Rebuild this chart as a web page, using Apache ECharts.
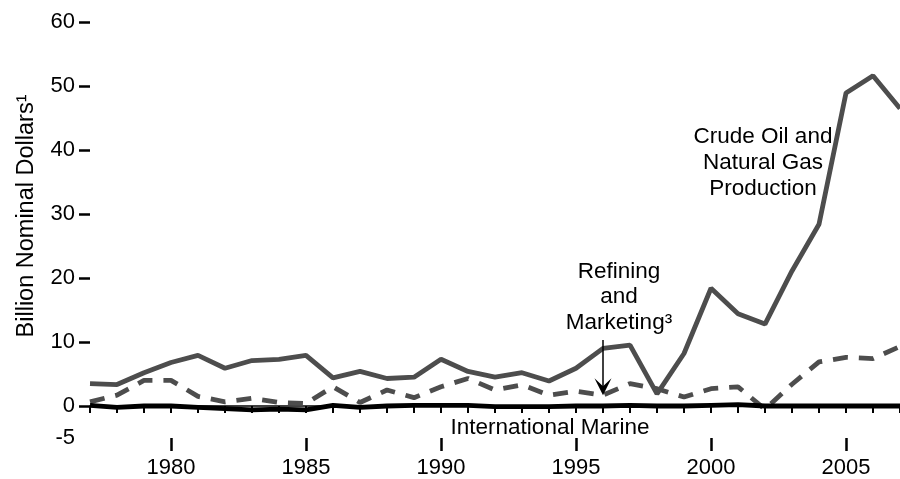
<!DOCTYPE html>
<html>
<head>
<meta charset="utf-8">
<script src="https://cdn.jsdelivr.net/npm/echarts@6/dist/echarts.min.js"></script>
<style>html,body{margin:0;padding:0;background:#fff;}#c{width:900px;height:479px;}</style>
</head>
<body>
<div id="c"></div>
<script>
var years = [1977,1978,1979,1980,1981,1982,1983,1984,1985,1986,1987,1988,1989,1990,1991,1992,1993,1994,1995,1996,1997,1998,1999,2000,2001,2002,2003,2004,2005,2006,2007];
var crudeOil = [3.5,3.35,5.2,6.8,7.9,5.9,7.1,7.3,7.9,4.4,5.4,4.3,4.5,7.3,5.4,4.5,5.2,3.9,5.9,9.0,9.5,1.9,8.2,18.4,14.4,12.8,21.1,28.4,48.9,51.6,46.5];
var refining = [0.65,1.7,4.0,4.0,1.5,0.65,1.2,0.55,0.4,3.0,0.55,2.5,1.3,3.0,4.3,2.5,3.3,1.7,2.3,1.7,3.5,2.7,1.4,2.7,3.0,-0.5,3.4,6.9,7.6,7.4,9.3];
var marine = [0.1,-0.2,0,0,-0.2,-0.4,-0.6,-0.5,-0.6,0.1,-0.2,0,0.1,0.1,0.1,-0.1,-0.1,-0.1,0,0,0.1,0,0,0.1,0.2,0,0,0,0,0,0];
var yLabelValues = [-5,0,10,20,30,40,50,60];
var yTickValues = [0,10,20,30,40,50,60];
var xLabelYears = [1980,1985,1990,1995,2000,2005];
var arrowYear = 1996, arrowFrom = 10.3, arrowTo = 3.0;

function pairs(v){ return years.map(function(y,i){ return [y, v[i]]; }); }

var FONT = 'Arial, "Liberation Sans", sans-serif';
var chart = echarts.init(document.getElementById('c'), null, {renderer:'canvas'});
chart.setOption({
  animation: false,
  backgroundColor: '#fff',
  textStyle: {fontFamily: FONT},
  grid: {left: 90, right: -10, top: 22, bottom: 39, containLabel: false},
  xAxis: [{
    type: 'value', min: 1977, max: 2007, interval: 1,
    axisLine: {show: true, lineStyle: {color: '#000', width: 1.5}},
    axisTick: {show: true, length: 7, lineStyle: {color: '#000', width: 2}},
    axisLabel: {show: false},
    splitLine: {show: false}
  },{
    type: 'value', min: 1977, max: 2007, position: 'bottom',
    axisLine: {show: false},
    axisTick: {show: true, length: 13, customValues: xLabelYears, lineStyle: {color: '#000', width: 2.5}},
    axisLabel: {show: true, customValues: xLabelYears, margin: 19, color: '#000', fontSize: 22, fontFamily: FONT,
      formatter: function(v){ return String(v); }},
    splitLine: {show: false}
  }],
  yAxis: {
    type: 'value', min: -5, max: 60,
    axisLine: {show: false},
    axisTick: {show: true, length: 11, customValues: yTickValues, lineStyle: {color: '#000', width: 2.5}},
    axisLabel: {show: true, customValues: yLabelValues, margin: 15, color: '#000', fontSize: 22, fontFamily: FONT,
      formatter: function(v){ return String(v); }},
    splitLine: {show: false}
  },
  series: [{
    name: 'Refining and Marketing', type: 'line', data: pairs(refining), symbol: 'none',
    lineStyle: {color: '#4d4d4d', width: 4.8, type: [15, 11]},
    markLine: {
      silent: true, animation: false,
      label: {show: false},
      lineStyle: {color: '#000', width: 1.5, type: 'solid'},
      symbol: ['none', 'path://M8.5,0 L17,17 L8.5,9 L0,17 Z'],
      symbolSize: [17, 17],
      data: [[{coord: [arrowYear, arrowFrom]}, {coord: [arrowYear, arrowTo]}]]
    }
  },{
    name: 'International Marine', type: 'line', data: pairs(marine), symbol: 'none',
    lineStyle: {color: '#000', width: 4.8}
  },{
    name: 'Crude Oil and Natural Gas Production', type: 'line', data: pairs(crudeOil), symbol: 'none',
    lineStyle: {color: '#4d4d4d', width: 4.8}
  }],
  graphic: [
    {type: 'text', x: 27, y: 216, rotation: Math.PI / 2, style: {text: 'Billion Nominal Dollars\u00b9', fontSize: 23.5, fontFamily: FONT, fill: '#000', align: 'center', verticalAlign: 'middle'}},
    {type: 'text', x: 763, y: 163, style: {text: 'Crude Oil and\nNatural Gas\nProduction', fontSize: 22.5, lineHeight: 26, fontFamily: FONT, fill: '#000', align: 'center', verticalAlign: 'middle'}},
    {type: 'text', x: 619, y: 297, style: {text: 'Refining\nand\nMarketing\u00b3', fontSize: 22.5, lineHeight: 25.5, fontFamily: FONT, fill: '#000', align: 'center', verticalAlign: 'middle'}},
    {type: 'text', x: 550, y: 428, style: {text: 'International Marine', fontSize: 22.5, fontFamily: FONT, fill: '#000', align: 'center', verticalAlign: 'middle'}}
  ]
});
</script>
</body>
</html>
